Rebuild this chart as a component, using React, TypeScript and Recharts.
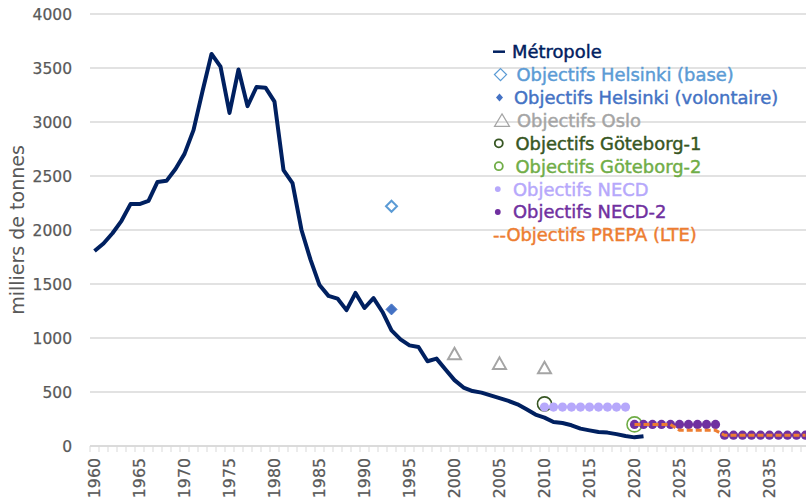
import { ComposedChart, Line, XAxis, YAxis, CartesianGrid, Legend } from "recharts"

const FONT = "'DejaVu Sans', Verdana, sans-serif"
const GRID = "#d9d9d9"
const TICK_COLOR = "#595959"

// axis categories and labels
const years = Array.from({ length: 80 }, (_, i) => 1960 + i)
const labelYears = [1960, 1965, 1970, 1975, 1980, 1985, 1990, 1995, 2000, 2005, 2010, 2015, 2020, 2025, 2030, 2035]
const yTicks = [0, 500, 1000, 1500, 2000, 2500, 3000, 3500, 4000]

// Métropole, 1960 -> 2021
const metropoleStart = 1960
const metropole = [
    1805, 1875, 1970, 2085, 2240, 2240, 2270, 2445, 2455, 2565,
    2705, 2925, 3285, 3630, 3512, 3084, 3486, 3147, 3324, 3318,
    3188, 2555, 2435, 2000, 1725, 1490, 1390, 1365, 1258, 1417,
    1278, 1370, 1241, 1071, 988, 932, 917, 785, 809, 708,
    610, 541, 509, 494, 469, 444, 417, 386, 340, 291,
    263, 222, 213, 192, 161, 145, 130, 124, 110, 92,
    80, 90,
]

const helsinkiBaseYears = [1993]
const helsinkiBase = [2220]
const helsinkiVolYears = [1993]
const helsinkiVol = [1265]
const osloYears = [2000, 2005, 2010]
const oslo = [855, 765, 725]
const goteborg1Years = [2010]
const goteborg1 = [390]
const goteborg2Years = [2020]
const goteborg2 = [200]
const necdYears = [2010, 2011, 2012, 2013, 2014, 2015, 2016, 2017, 2018, 2019]
const necd = [360, 360, 360, 360, 360, 360, 360, 360, 360, 360]
const necd2Years = [
    2020, 2021, 2022, 2023, 2024, 2025, 2026, 2027, 2028, 2029,
    2030, 2031, 2032, 2033, 2034, 2035, 2036, 2037, 2038, 2039,
]
const necd2 = [
    200, 200, 200, 200, 200, 200, 200, 200, 200, 200,
    100, 100, 100, 100, 100, 100, 100, 100, 100, 100,
]
const prepaYears = necd2Years
const prepa = [
    200, 200, 200, 200, 200, 145, 145, 145, 145, 145,
    100, 100, 100, 100, 100, 100, 100, 100, 100, 100,
]

const seriesNames = [
    "Métropole",
    "Objectifs Helsinki (base)",
    "Objectifs Helsinki (volontaire)",
    "Objectifs Oslo",
    "Objectifs Göteborg-1",
    "Objectifs Göteborg-2",
    "Objectifs NECD",
    "Objectifs NECD-2",
    "--Objectifs PREPA (LTE)",
]

const COLORS = {
    metropole: "#002060",
    helsinkiBase: "#5B9BD5",
    helsinkiVol: "#4472C4",
    oslo: "#A5A5A5",
    goteborg1: "#375623",
    goteborg2: "#70AD47",
    necd: "#B6A8FB",
    necd2: "#7030A0",
    prepa: "#ED7D31",
}

function pick(ys: number[], vs: number[], year: number) {
    const i = ys.indexOf(year)
    return i >= 0 ? vs[i] : null
}

const data = years.map(year => ({
    year,
    metropole: year - metropoleStart < metropole.length ? metropole[year - metropoleStart] : null,
    helsinkiBase: pick(helsinkiBaseYears, helsinkiBase, year),
    helsinkiVol: pick(helsinkiVolYears, helsinkiVol, year),
    oslo: pick(osloYears, oslo, year),
    goteborg1: pick(goteborg1Years, goteborg1, year),
    goteborg2: pick(goteborg2Years, goteborg2, year),
    necd: pick(necdYears, necd, year),
    necd2: pick(necd2Years, necd2, year),
    prepa: pick(prepaYears, prepa, year),
}))

const xTicks = [...years.map(y => y - 0.5), years[years.length - 1] + 0.5, ...labelYears]

function YearTick(props: any) {
    const { x, y, payload } = props
    const v = payload.value
    if (!Number.isInteger(v)) {
        return <line x1={x} x2={x} y1={y} y2={y + 6} stroke={GRID} strokeWidth={1} />
    }
    const ty = y + 12
    return (
        <text
            x={x}
            y={ty}
            dy="0.36em"
            textAnchor="end"
            transform={`rotate(-90 ${x} ${ty})`}
            fill={TICK_COLOR}
            stroke={TICK_COLOR}
            strokeWidth={0.25}
            fontSize={15.8}
            fontFamily={FONT}
        >
            {v}
        </text>
    )
}

const valid = (p: any) => p.cy != null && !Number.isNaN(p.cy) && p.value != null

const diamondDot = (color: string, half: number, filled: boolean) => (p: any) => {
    if (!valid(p)) return <g key={p.key ?? p.index} />
    const { cx, cy } = p
    const d = `M${cx},${cy - half}L${cx + half},${cy}L${cx},${cy + half}L${cx - half},${cy}Z`
    return (
        <path key={p.key ?? p.index} d={d} fill={filled ? color : "none"}
            stroke={color} strokeWidth={filled ? 1 : 2} />
    )
}

const triangleDot = (color: string) => (p: any) => {
    if (!valid(p)) return <g key={p.key ?? p.index} />
    const { cx, cy } = p
    const d = `M${cx},${cy - 6}L${cx + 6.5},${cy + 5.5}L${cx - 6.5},${cy + 5.5}Z`
    return <path key={p.key ?? p.index} d={d} fill="none" stroke={color} strokeWidth={2} />
}

const circleDot = (color: string, r: number, filled: boolean) => (p: any) => {
    if (!valid(p)) return <g key={p.key ?? p.index} />
    return (
        <circle key={p.key ?? p.index} cx={p.cx} cy={p.cy} r={r}
            fill={filled ? color : "none"} stroke={filled ? "none" : color} strokeWidth={1.6} />
    )
}

const legendColors = [
    COLORS.metropole, COLORS.helsinkiBase, COLORS.helsinkiVol, COLORS.oslo,
    COLORS.goteborg1, COLORS.goteborg2, COLORS.necd, COLORS.necd2, COLORS.prepa,
]
const legendTextX = [24, 28.5, 26, 29, 27.5, 27.5, 25, 25, 5]

function LegendSymbol({ i, y }: { i: number; y: number }) {
    const c = legendColors[i]
    switch (i) {
        case 0:
            return <line x1={5} x2={17} y1={y} y2={y} stroke={c} strokeWidth={2.5} />
        case 1:
            return <path d={`M12.5,${y - 6}L18.5,${y}L12.5,${y + 6}L6.5,${y}Z`} fill="none" stroke={c} strokeWidth={1.3} />
        case 2:
            return <path d={`M11.5,${y - 4}L15,${y}L11.5,${y + 4}L8,${y}Z`} fill={c} />
        case 3:
            return <path d={`M14,${y - 6.5}L21.5,${y + 6}L6.5,${y + 6}Z`} fill="none" stroke={c} strokeWidth={1.2} />
        case 4:
        case 5:
            return <circle cx={10.8} cy={y} r={4} fill="none" stroke={c} strokeWidth={1.8} />
        case 6:
        case 7:
            return <circle cx={9.8} cy={y} r={2.9} fill={c} />
        default:
            return null
    }
}

function LegendBox() {
    return (
        <svg width={318} height={215} style={{ display: "block" }}>
            {seriesNames.map((name, i) => {
                const y = 11.7 + i * 22.9
                return (
                    <g key={name}>
                        <LegendSymbol i={i} y={y} />
                        <text x={legendTextX[i]} y={y} dy="0.36em" fill={legendColors[i]}
                            stroke={legendColors[i]} strokeWidth={0.45}
                            fontSize={17.9} fontFamily={FONT}>
                            {name}
                        </text>
                    </g>
                )
            })}
        </svg>
    )
}

export default function App() {
    return (
        <div style={{ position: "absolute", left: 0, top: 0, width: 806, height: 501, overflow: "hidden", background: "#fff" }}>
            <ComposedChart width={810} height={501} data={data}
                margin={{ top: 14, right: 0, bottom: 0, left: 0 }}>
                <CartesianGrid vertical={false} stroke={GRID} strokeWidth={1.3} />
                <XAxis
                    type="number"
                    dataKey="year"
                    domain={[1959.5, 2039.5]}
                    ticks={xTicks}
                    interval={0}
                    tick={<YearTick />}
                    tickLine={false}
                    tickSize={0}
                    tickMargin={0}
                    axisLine={{ stroke: GRID, strokeWidth: 1.3 }}
                    height={55}
                    allowDataOverflow
                />
                <YAxis
                    type="number"
                    domain={[0, 4000]}
                    ticks={yTicks}
                    interval={0}
                    axisLine={false}
                    tickLine={false}
                    tickSize={0}
                    tickMargin={18}
                    width={90}
                    tick={{ fill: TICK_COLOR, stroke: TICK_COLOR, strokeWidth: 0.25, fontSize: 15.5, fontFamily: FONT }}
                    label={{
                        value: "milliers de tonnes",
                        angle: -90,
                        position: "insideLeft",
                        offset: 17,
                        style: { textAnchor: "middle", fill: TICK_COLOR, fontSize: 19, fontFamily: FONT },
                    }}
                />
                <Line dataKey="metropole" stroke={COLORS.metropole} strokeWidth={4} dot={false}
                    activeDot={false} strokeLinejoin="round" isAnimationActive={false} />
                <Line dataKey="helsinkiBase" stroke="none" dot={diamondDot(COLORS.helsinkiBase, 5.5, false)}
                    activeDot={false} isAnimationActive={false} />
                <Line dataKey="helsinkiVol" stroke="none" dot={diamondDot(COLORS.helsinkiVol, 5.5, true)}
                    activeDot={false} isAnimationActive={false} />
                <Line dataKey="oslo" stroke="none" dot={triangleDot(COLORS.oslo)}
                    activeDot={false} isAnimationActive={false} />
                <Line dataKey="goteborg1" stroke="none" dot={circleDot(COLORS.goteborg1, 7, false)}
                    activeDot={false} isAnimationActive={false} />
                <Line dataKey="goteborg2" stroke="none" dot={circleDot(COLORS.goteborg2, 7.5, false)}
                    activeDot={false} isAnimationActive={false} />
                <Line dataKey="necd" stroke="none" dot={circleDot(COLORS.necd, 4.6, true)}
                    activeDot={false} isAnimationActive={false} />
                <Line dataKey="necd2" stroke="none" dot={circleDot(COLORS.necd2, 4.6, true)}
                    activeDot={false} isAnimationActive={false} />
                <Line dataKey="prepa" stroke={COLORS.prepa} strokeWidth={3} strokeDasharray="6 3"
                    dot={false} activeDot={false} isAnimationActive={false} {...({ zIndex: 1200 } as any)} />
                <Legend
                    layout="vertical"
                    align="center"
                    verticalAlign="middle"
                    wrapperStyle={{ left: 488, top: 40, width: 318 }}
                    content={() => <LegendBox />}
                />
            </ComposedChart>
        </div>
    )
}
